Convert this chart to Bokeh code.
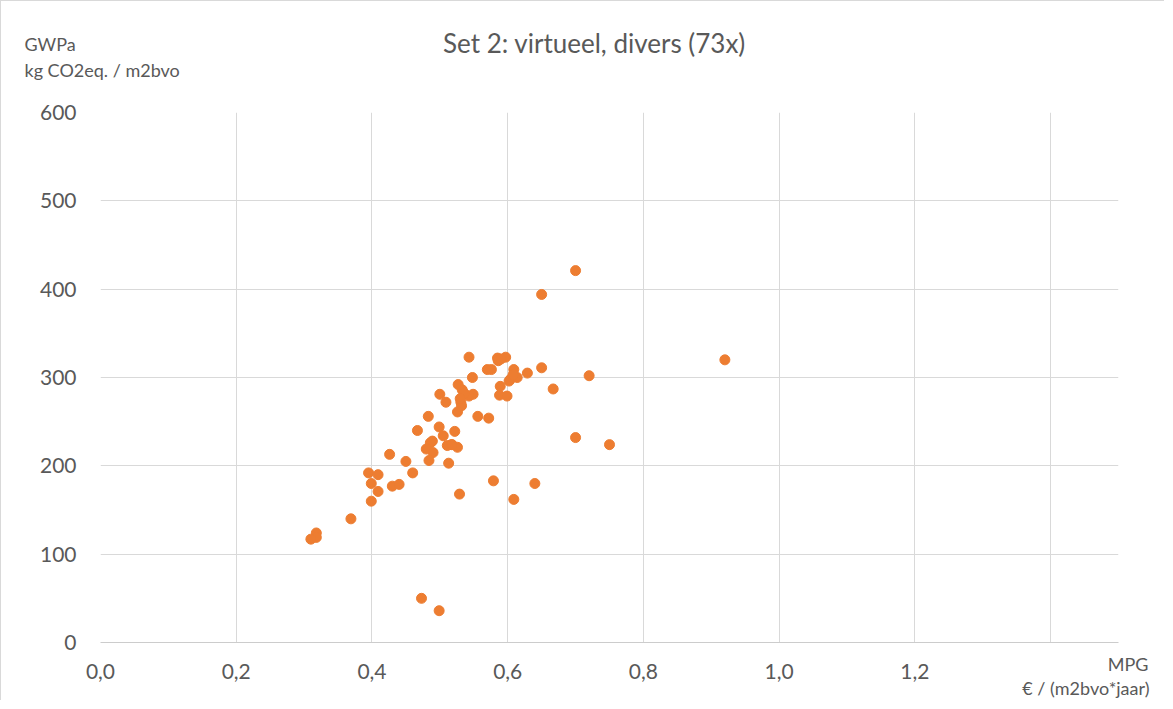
from bokeh.plotting import figure
from bokeh.models import ColumnDataSource, FixedTicker, CustomJSTickFormatter, Label, Range1d
from bokeh.embed import file_html
from bokeh.resources import INLINE

# ---- data ----
mpg = [0.700, 0.650, 0.543, 0.585, 0.597, 0.586, 0.570, 0.576, 0.609, 0.629,
       0.650, 0.720, 0.548, 0.604, 0.614, 0.602, 0.527, 0.533, 0.549, 0.543,
       0.500, 0.589, 0.588, 0.599, 0.667, 0.509, 0.531, 0.532, 0.526, 0.556,
       0.572, 0.483, 0.499, 0.522, 0.505, 0.467, 0.489, 0.486, 0.480, 0.490,
       0.511, 0.517, 0.526, 0.513, 0.484, 0.700, 0.750, 0.426, 0.450, 0.460,
       0.395, 0.409, 0.399, 0.430, 0.440, 0.409, 0.399, 0.579, 0.640, 0.529,
       0.609, 0.369, 0.318, 0.318, 0.310, 0.473, 0.499, 0.920, 0.536, 0.590,
       0.608, 0.518, 0.530]
gwpa = [421, 394, 323, 322, 323, 319, 309, 309, 309, 305,
        311, 302, 300, 298, 300, 296, 292, 286, 281, 279,
        281, 290, 280, 279, 287, 272, 272, 268, 261, 256,
        254, 256, 244, 239, 234, 240, 228, 226, 219, 215,
        223, 224, 221, 203, 206, 232, 224, 213, 205, 192,
        192, 190, 180, 177, 179, 171, 160, 183, 180, 168,
        162, 140, 124, 119, 117, 50, 36, 320, 282, 321,
        303, 224, 276]

x_ticks = [0.0, 0.2, 0.4, 0.6, 0.8, 1.0, 1.2]
x_grid = [0.0, 0.2, 0.4, 0.6, 0.8, 1.0, 1.2, 1.4]
y_ticks = [0, 100, 200, 300, 400, 500, 600]

title_text = "Set 2: virtueel, divers (73x)"
y_title = ["GWPa", "kg CO2eq. / m2bvo"]
x_title = ["MPG", "\u20ac / (m2bvo*jaar)"]

FONT = "Lato"
TXT = "#595959"
GRID = "#d9d9d9"

src = ColumnDataSource(data=dict(x=mpg, y=gwpa))

p = figure(width=1164, height=700, output_backend="svg", toolbar_location=None,
           x_range=Range1d(0, 1.5), y_range=Range1d(0, 600),
           min_border_left=99, min_border_right=47, min_border_top=111, min_border_bottom=59)
p.styles = {"border-left": "1px solid #d9d9d9", "border-top": "1px solid #d9d9d9"}
p.outline_line_color = None
p.background_fill_color = "white"
p.border_fill_color = "white"

p.scatter("x", "y", source=src, size=10, fill_color="#ED7D31", line_color="#ED7D31")

fmt = CustomJSTickFormatter(code="return tick.toFixed(1).replace('.', ',');")
p.xaxis.ticker = FixedTicker(ticks=x_ticks)
p.xaxis.formatter = fmt
p.xgrid.ticker = FixedTicker(ticks=x_grid)
p.yaxis.ticker = FixedTicker(ticks=y_ticks)
p.ygrid.ticker = FixedTicker(ticks=y_ticks[1:])

for ax in (p.xaxis[0], p.yaxis[0]):
    ax.major_tick_line_color = None
    ax.minor_tick_line_color = None
    ax.major_label_text_font = FONT
    ax.major_label_text_font_size = "21px"
    ax.major_label_text_color = TXT
p.xaxis.major_label_standoff = 15
p.yaxis.major_label_standoff = 18
p.xaxis.axis_line_color = "#cccccc"
p.yaxis.axis_line_color = None

p.xgrid.grid_line_color = GRID
p.ygrid.grid_line_color = GRID

# texts placed in side panels; offsets are relative to each panel's left/bottom corner
def lab(text, dx, dy, align, size, side):
    p.add_layout(Label(x=dx, y=dy, x_units="screen", y_units="screen", text=text,
                       text_font=FONT, text_font_size=size, text_color=TXT,
                       text_align=align, text_baseline="middle"), side)

lab(x_title[1], 1049, -575, "right", "18px", "above")
lab(y_title[1], -76, 21, "left", "18px", "above")
lab(y_title[0], -76, 25, "left", "18px", "above")
lab(title_text, 494, 4, "center", "26px", "above")
lab(x_title[0], 30, -21, "right", "18px", "right")

open("out.html", "w").write(file_html(p, INLINE))
